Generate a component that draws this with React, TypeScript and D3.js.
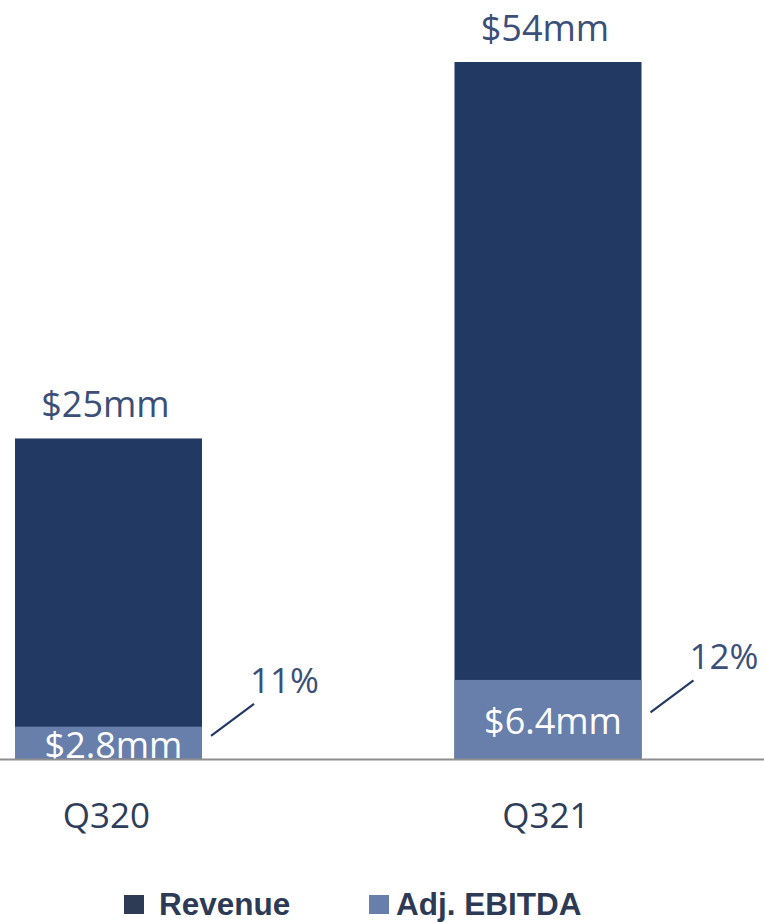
import * as d3 from "d3";

// chart data
const quarters = ["Q320", "Q321"];
const revenue = [25, 54];
const ebitda = [2.8, 6.4];
const revenueLabels = ["$25mm", "$54mm"];
const ebitdaLabels = ["$2.8mm", "$6.4mm"];
const marginLabels = ["11%", "12%"];
const legendNames = ["Revenue", "Adj. EBITDA"];

const W = 764;
const H = 923;
const axisY = 759;

const REV_COLOR = "#223963";
const EBITDA_COLOR = "#687fab";
const LABEL_COLOR = "#3b4f78";
const CAT_COLOR = "#2e3d5a";
const LEGEND_TEXT = "#2d3a55";
const FONT = "'Open Sans', 'Noto Sans', sans-serif";

export default function App() {
	const x = d3
		.scaleBand()
		.domain(quarters)
		.range([15, 641.5])
		.paddingInner(0.5745)
		.paddingOuter(0);

	const y = d3.scaleLinear().domain([0, 54]).range([763, 62]);

	const bw = x.bandwidth();

	return (
		<svg
			width={W}
			height={H}
			style={{ position: "absolute", left: 0, top: 0, display: "block", background: "#fff" }}
		>
			<defs>
				<clipPath id="plot">
					<rect x={0} y={0} width={W} height={axisY} />
				</clipPath>
			</defs>

			<g clipPath="url(#plot)">
				{quarters.map((q, i) => (
					<g key={q}>
						<rect
							x={x(q)}
							y={y(revenue[i])}
							width={bw}
							height={y(0) - y(revenue[i])}
							fill={REV_COLOR}
						/>
						<rect
							x={x(q)}
							y={y(ebitda[i])}
							width={bw}
							height={y(0) - y(ebitda[i])}
							fill={EBITDA_COLOR}
						/>
					</g>
				))}
			</g>

			{quarters.map((q, i) => {
				const cx = (x(q) || 0) + bw / 2;
				const right = (x(q) || 0) + bw;
				const segMid = (y(ebitda[i]) + axisY) / 2;
				const lx0 = right + 9;
				const ly0 = segMid - 7;
				const lx1 = lx0 + 43;
				const ly1 = ly0 - 32;
				return (
					<g key={q + "-labels"} fontFamily={FONT}>
						<text
							x={cx - 3}
							y={y(revenue[i]) - 21}
							textAnchor="middle"
							fontSize={36}
							fill={LABEL_COLOR}
						>
							{revenueLabels[i]}
						</text>
						<text
							x={cx + 5}
							y={segMid + 15}
							textAnchor="middle"
							fontSize={36}
							fill="#ffffff"
						>
							{ebitdaLabels[i]}
						</text>
						<line x1={lx0} y1={ly0} x2={lx1} y2={ly1} stroke={REV_COLOR} strokeWidth={2.2} />
						<text x={lx1 - 4} y={ly1 - 11} fontSize={35} fill={LABEL_COLOR}>
							{marginLabels[i]}
						</text>
						<text x={cx - 2} y={828} textAnchor="middle" fontSize={35} fill={CAT_COLOR}>
							{q}
						</text>
					</g>
				);
			})}

			<line x1={0} x2={W} y1={axisY + 0.5} y2={axisY + 0.5} stroke="#8e8e8e" strokeWidth={2} />

			<g fontFamily="'Liberation Sans', Arial, sans-serif" fontWeight="bold" fontSize={31.5} fill={LEGEND_TEXT}>
				<rect x={124} y={895} width={20} height={19} fill="#2e3b55" />
				<text x={159} y={915}>{legendNames[0]}</text>
				<rect x={369} y={895} width={20} height={19} fill={EBITDA_COLOR} />
				<text x={396} y={915}>{legendNames[1]}</text>
			</g>
		</svg>
	);
}
